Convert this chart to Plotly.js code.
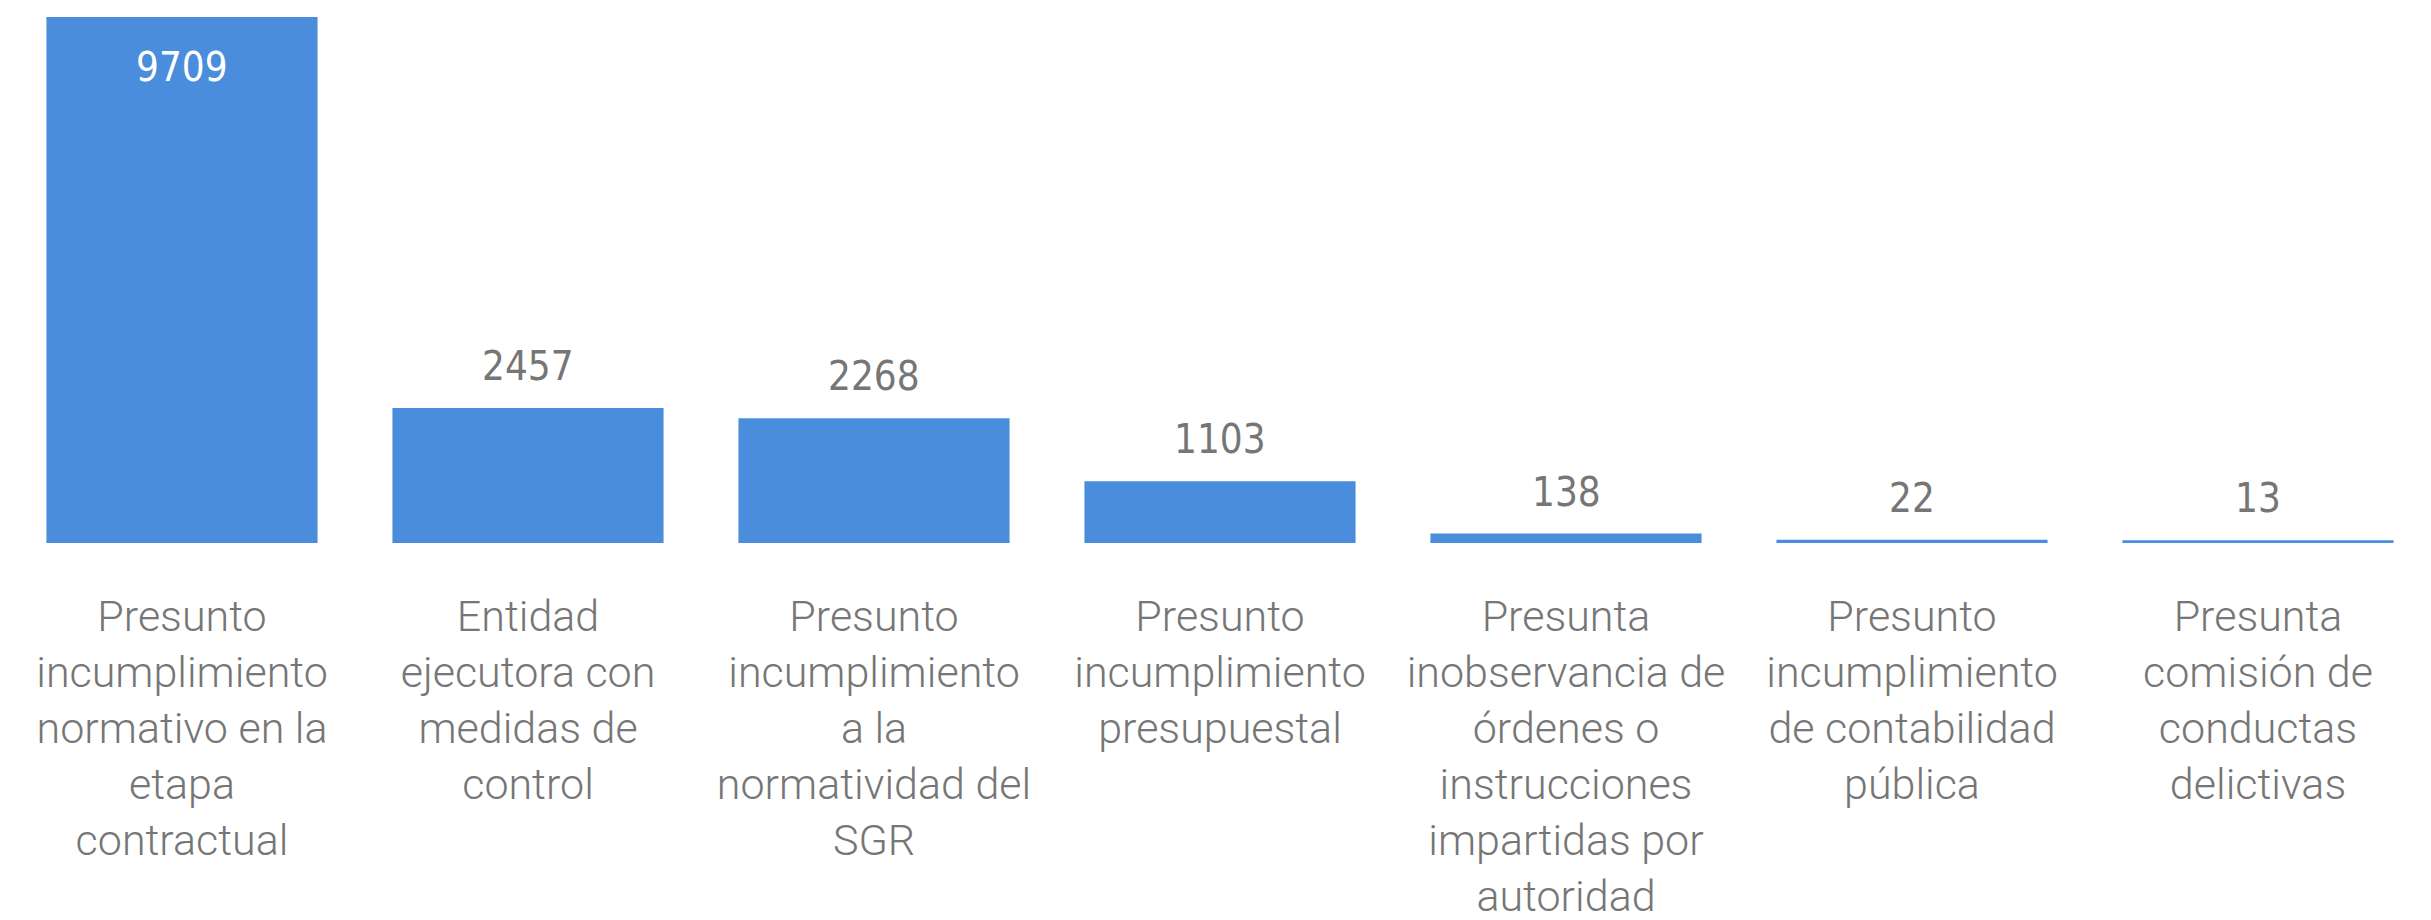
<!DOCTYPE html>
<html>
<head>
<meta charset="utf-8">
<script src="https://cdn.plot.ly/plotly-3.0.1.min.js"></script>
<style>html,body{margin:0;padding:0;background:#fff;}#chart{width:2431px;height:920px;}</style>
</head>
<body>
<div id="chart"></div>
<script>
const categories = [
  "Presunto incumplimiento normativo en la etapa contractual",
  "Entidad ejecutora con medidas de control",
  "Presunto incumplimiento a la normatividad del SGR",
  "Presunto incumplimiento presupuestal",
  "Presunta inobservancia de órdenes o instrucciones impartidas por autoridad",
  "Presunto incumplimiento de contabilidad pública",
  "Presunta comisión de conductas delictivas"
];
const tickLabels = [
  "Presunto<br>incumplimiento<br>normativo en la<br>etapa<br>contractual",
  "Entidad<br>ejecutora con<br>medidas de<br>control",
  "Presunto<br>incumplimiento<br>a la<br>normatividad del<br>SGR",
  "Presunto<br>incumplimiento<br>presupuestal",
  "Presunta<br>inobservancia de<br>órdenes o<br>instrucciones<br>impartidas por<br>autoridad",
  "Presunto<br>incumplimiento<br>de contabilidad<br>pública",
  "Presunta<br>comisión de<br>conductas<br>delictivas"
];
const values = [9709, 2457, 2268, 1103, 138, 22, 13];

const barColor = "#4A8DDC";
const labelGrey = "#767676";

const annotations = categories.map((c, i) => {
  const inside = i === 0;
  return {
    x: c, y: values[i], xref: "x", yref: "y",
    text: String(values[i]),
    showarrow: false,
    yanchor: "middle",
    yshift: inside ? -50 : 44,
    font: {family: "DejaVu Sans Condensed, Liberation Sans Narrow, sans-serif", size: 40, color: inside ? "#ffffff" : labelGrey}
  };
});

const trace = {
  type: "bar",
  x: categories,
  y: values,
  marker: {color: barColor, line: {width: 4, color: barColor}},
  hoverinfo: "skip"
};

const layout = {
  width: 2431, height: 920,
  margin: {l: 9, r: 0, t: 17, b: 377, pad: 0},
  paper_bgcolor: "#ffffff", plot_bgcolor: "#ffffff",
  bargap: 0.228,
  showlegend: false,
  xaxis: {
    type: "category",
    tickvals: categories,
    ticktext: tickLabels,
    tickangle: 0,
    showline: false, showgrid: false, zeroline: false,
    ticks: "",
    ticklabelstandoff: 44,
    tickfont: {family: "Roboto, sans-serif", size: 43, color: labelGrey, weight: 300},
    automargin: false
  },
  yaxis: {
    range: [0, 9709],
    visible: false,
    showgrid: false, zeroline: false,
    fixedrange: true
  },
  annotations: annotations
};

Plotly.newPlot("chart", [trace], layout, {staticPlot: true, displayModeBar: false});
</script>
</body>
</html>
